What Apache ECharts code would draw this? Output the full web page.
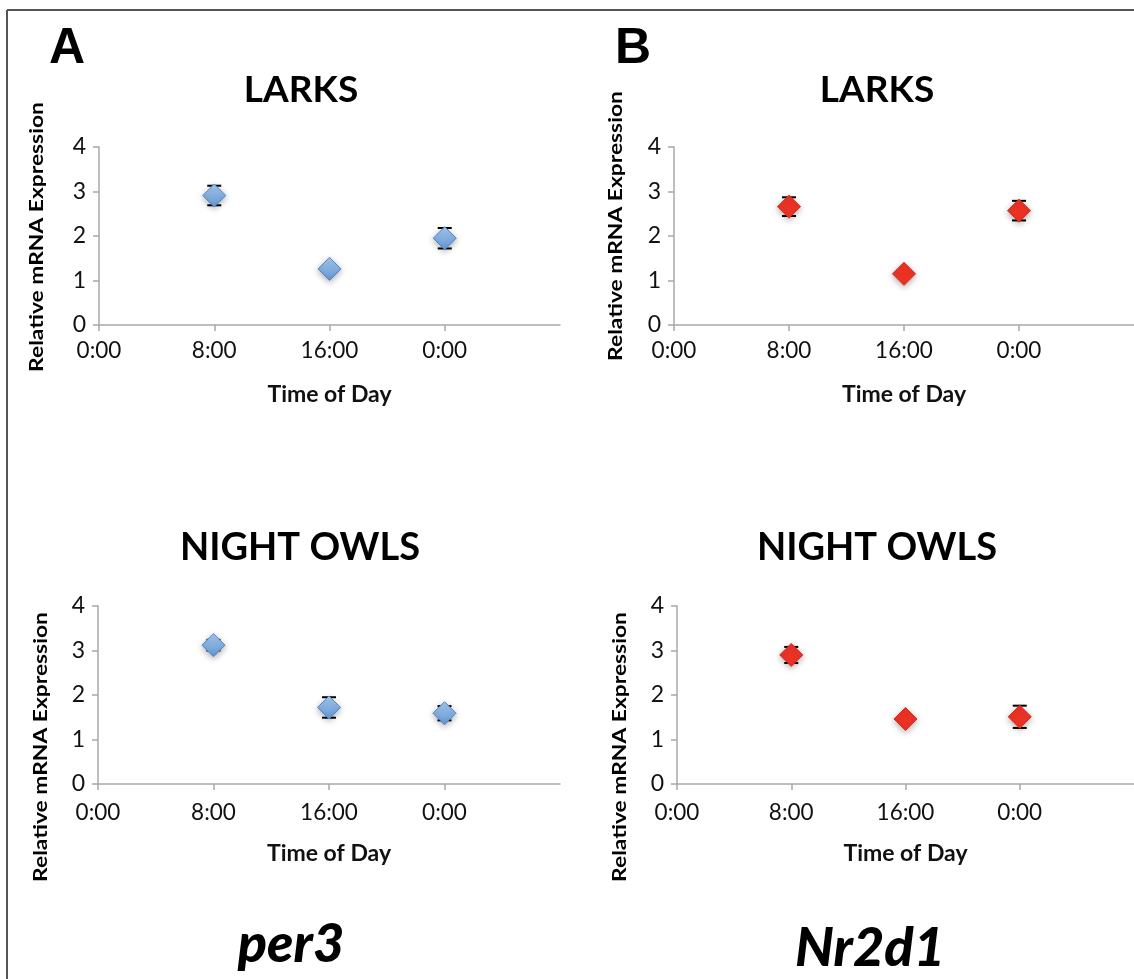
<!DOCTYPE html>
<html>
<head>
<meta charset="utf-8">
<script src="https://cdn.jsdelivr.net/npm/echarts@6/dist/echarts.min.js"></script>
<style>
  html, body { margin: 0; padding: 0; background: #fff; }
  #chart { width: 1134px; height: 979px; }
</style>
</head>
<body>
<div id="chart"></div>
<script>
// ---- data ----
const xTickValues = [0, 8, 16, 24];
const xTickLabels = ['0:00', '8:00', '16:00', '0:00'];
const times = [8, 16, 24];

const per3Larks = [2.91, 1.26, 1.95];
const per3LarksErr = [0.22, 0.06, 0.23];
const per3Owls = [3.12, 1.72, 1.59];
const per3OwlsErr = [0.12, 0.23, 0.16];
const nr2d1Larks = [2.66, 1.15, 2.57];
const nr2d1LarksErr = [0.21, 0.06, 0.22];
const nr2d1Owls = [2.90, 1.46, 1.51];
const nr2d1OwlsErr = [0.18, 0.06, 0.25];

const panelLetters = ['A', 'B'];
const groupTitles = ['LARKS', 'NIGHT OWLS'];
const geneNames = ['per3', 'Nr2d1'];
const yAxisTitle = 'Relative mRNA Expression';
const xAxisTitle = 'Time of Day';

// ---- styling ----
const axisColor = '#A8A8A8';
const font = 'Lato';
const blueFill = new echarts.graphic.LinearGradient(0, 0, 0, 1, [
  { offset: 0, color: '#A6C9F0' },
  { offset: 1, color: '#6396D2' }
]);
const redFill = '#EC3324';

const grids = [
  { left: 99, top: 147, width: 461, height: 178 },
  { left: 674, top: 147, width: 460, height: 178 },
  { left: 98, top: 606, width: 462, height: 178 },
  { left: 677, top: 606, width: 457, height: 178 }
];

const panels = [
  { vals: per3Larks, errs: per3LarksErr, fill: blueFill, border: '#5084C2' },
  { vals: nr2d1Larks, errs: nr2d1LarksErr, fill: redFill, border: '#D82A1C' },
  { vals: per3Owls, errs: per3OwlsErr, fill: blueFill, border: '#5084C2' },
  { vals: nr2d1Owls, errs: nr2d1OwlsErr, fill: redFill, border: '#D82A1C' }
];

const xAxes = grids.map((g, i) => ({
  type: 'value', gridIndex: i, min: 0, max: 32, interval: 8,
  axisLine: { show: true, lineStyle: { color: axisColor, width: 1.5 } },
  axisTick: { show: true, length: 6, inside: false, customValues: xTickValues, lineStyle: { color: axisColor, width: 1.5 } },
  axisLabel: {
    customValues: xTickValues,
    margin: i < 2 ? 14 : 17,
    color: '#111', fontFamily: font, fontSize: 22.5,
    formatter: v => xTickLabels[xTickValues.indexOf(v)]
  },
  splitLine: { show: false },
  name: xAxisTitle, nameLocation: 'middle', nameGap: i < 2 ? 58 : 58,
  nameTextStyle: { fontFamily: font, fontWeight: 'bold', fontSize: 23, color: '#111' }
}));

const yAxes = grids.map((g, i) => ({
  type: 'value', gridIndex: i, min: 0, max: 4, interval: 1,
  axisLine: { show: true, lineStyle: { color: axisColor, width: 1.5 } },
  axisTick: { show: true, length: 6, inside: false, lineStyle: { color: axisColor, width: 1.5 } },
  axisLabel: { margin: 13, color: '#111', fontFamily: font, fontSize: 23 },
  splitLine: { show: false }
}));

const series = [];
panels.forEach((p, i) => {
  series.push({
    type: 'custom', xAxisIndex: i, yAxisIndex: i, z: 1,
    data: times.map((t, k) => [t, p.vals[k] - p.errs[k], p.vals[k] + p.errs[k]]),
    renderItem: (params, api) => {
      const lo = api.coord([api.value(0), api.value(1)]);
      const hi = api.coord([api.value(0), api.value(2)]);
      const hw = 7;
      const st = { stroke: '#000', lineWidth: 2 };
      return {
        type: 'group',
        children: [
          { type: 'line', shape: { x1: lo[0], y1: lo[1], x2: hi[0], y2: hi[1] }, style: st },
          { type: 'line', shape: { x1: lo[0] - hw, y1: lo[1], x2: lo[0] + hw, y2: lo[1] }, style: st },
          { type: 'line', shape: { x1: hi[0] - hw, y1: hi[1], x2: hi[0] + hw, y2: hi[1] }, style: st }
        ]
      };
    }
  });
  series.push({
    type: 'scatter', xAxisIndex: i, yAxisIndex: i, z: 3,
    symbol: 'diamond', symbolSize: 23,
    data: times.map((t, k) => [t, p.vals[k]]),
    itemStyle: {
      color: p.fill, borderColor: p.border, borderWidth: 1, opacity: 1,
      shadowBlur: 6, shadowOffsetY: 2, shadowColor: 'rgba(0,0,0,0.3)'
    },
    emphasis: { disabled: true }
  });
});

function txt(text, x, y, size, opts) {
  return Object.assign({
    type: 'text', x: x, y: y, silent: true,
    style: Object.assign({
      text: text, fontFamily: font, fontWeight: 'bold', fontSize: size,
      fill: '#000', align: 'center', verticalAlign: 'middle'
    }, (opts && opts.style) || {})
  }, (opts && opts.el) || {});
}

const graphic = [
  { type: 'line', shape: { x1: 7, y1: 10, x2: 1134, y2: 10 }, style: { stroke: '#555', lineWidth: 2 }, silent: true },
  { type: 'line', shape: { x1: 7, y1: 10, x2: 7, y2: 979 }, style: { stroke: '#555', lineWidth: 2 }, silent: true },
  txt(panelLetters[0], 67, 49, 50, { style: { fontFamily: 'Liberation Sans' } }),
  txt(panelLetters[1], 633, 49, 50, { style: { fontFamily: 'Liberation Sans' } }),
  txt(groupTitles[0], 301, 90, 37),
  txt(groupTitles[0], 877, 90, 37),
  txt(groupTitles[1], 300, 548, 38),
  txt(groupTitles[1], 877, 548, 38),
  txt(geneNames[0], 291, 945, 54, { style: { fontStyle: 'italic', fontWeight: 900 } }),
  txt(geneNames[1], 870, 949, 54, { style: { fontStyle: 'italic', fontWeight: 900 } }),
  txt(yAxisTitle, 37, 237, 19, { el: { rotation: Math.PI / 2, scaleX: 1.2 } }),
  txt(yAxisTitle, 616, 226, 19, { el: { rotation: Math.PI / 2, scaleX: 1.2 } }),
  txt(yAxisTitle, 41, 747, 19, { el: { rotation: Math.PI / 2, scaleX: 1.2 } }),
  txt(yAxisTitle, 620, 747, 19, { el: { rotation: Math.PI / 2, scaleX: 1.2 } })
];

const chart = echarts.init(document.getElementById('chart'), null, { renderer: 'canvas' });
chart.setOption({
  backgroundColor: '#fff',
  animation: false,
  grid: grids,
  xAxis: xAxes,
  yAxis: yAxes,
  series: series,
  graphic: graphic
});
</script>
</body>
</html>
